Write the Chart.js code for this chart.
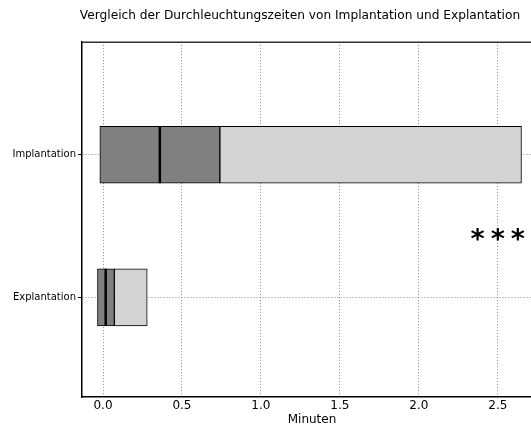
<!DOCTYPE html>
<html>
<head>
<meta charset="utf-8">
<script src="https://cdn.jsdelivr.net/npm/chart.js@4"></script>
<style>
  html, body { margin: 0; padding: 0; background: #fff; overflow: hidden; }
  #wrap { width: 600px; height: 428px; }
</style>
</head>
<body>
<div id="wrap"><canvas id="chart"></canvas></div>
<script>
// Durchleuchtungszeiten: Implantation vs Explantation (horizontal box-like bars)
const categories = ['Explantation', 'Implantation'];
const catPos     = [0, 1];

// dark box part (start, end) and light whisker part (start, end), minutes
const darkStart  = [-0.035, -0.02];
const darkEnd    = [0.072, 0.74];
const lightEnd   = [0.28, 2.65];
const medians    = [0.017, 0.36];

const xTickValues = [0, 0.5, 1.0, 1.5, 2.0, 2.5];
const sigLabel = '***';
const sigPos = { x: 2.5, y: 0.44 };

const FONT = 'DejaVu Sans';

const frame = {
  id: 'frame',
  afterDraw(chart) {
    const { ctx, chartArea: a } = chart;
    ctx.save();
    ctx.strokeStyle = '#333';
    ctx.lineWidth = 1.5;
    ctx.beginPath();
    ctx.moveTo(a.left, a.top);
    ctx.lineTo(a.right, a.top);
    ctx.stroke();
    // significance marker
    const x = chart.scales.x.getPixelForValue(sigPos.x);
    const y = chart.scales.y.getPixelForValue(sigPos.y);
    ctx.fillStyle = '#000';
    ctx.font = 'bold 27px "' + FONT + '"';
    ctx.letterSpacing = '6px';
    ctx.textAlign = 'left';
    ctx.textBaseline = 'middle';
    const w = ctx.measureText(sigLabel).width - 6;
    ctx.fillText(sigLabel, x - w / 2, y + 6);
    ctx.restore();
  }
};

const ctx = document.getElementById('chart').getContext('2d');

new Chart(ctx, {
  type: 'bar',
  data: {
    datasets: [
      {
        indexAxis: 'y',
        data: catPos.map((p, i) => ({ x: [darkStart[i], darkEnd[i]], y: p })),
        backgroundColor: '#808080',
        borderColor: '#000',
        borderWidth: 1,
        borderSkipped: false,
        barThickness: 57,
        grouped: false,
        order: 2
      },
      {
        indexAxis: 'y',
        data: catPos.map((p, i) => ({ x: [darkEnd[i], lightEnd[i]], y: p })),
        backgroundColor: '#d3d3d3',
        borderColor: '#000',
        borderWidth: 1,
        borderSkipped: false,
        barThickness: 57,
        grouped: false,
        order: 2
      },
      {
        type: 'scatter',
        data: catPos.map((p, i) => ({ x: medians[i], y: p })),
        pointStyle: 'line',
        rotation: 90,
        radius: 28.5,
        borderWidth: 2.5,
        borderColor: '#000',
        order: 1
      }
    ]
  },
  options: {
    responsive: true,
    maintainAspectRatio: false,
    animation: false,
    events: [],
    layout: { padding: 0 },
    plugins: {
      legend: { display: false },
      tooltip: { enabled: false },
      title: {
        display: true,
        text: 'Vergleich der Durchleuchtungszeiten von Implantation und Explantation',
        color: '#000',
        font: { family: FONT, size: 12.2, weight: 'normal' },
        padding: { top: 8.5, bottom: 19 }
      }
    },
    scales: {
      x: {
        type: 'linear',
        position: 'bottom',
        min: -0.133,
        max: 2.78,
        offset: false,
        beginAtZero: false,
        z: 1,
        afterBuildTicks(s) { s.ticks = xTickValues.map(v => ({ value: v })); },
        afterFit(s) { s.height = 30; },
        ticks: {
          color: '#000',
          padding: 2,
          font: { family: FONT, size: 12 },
          callback: v => v.toFixed(1)
        },
        grid: { color: '#8a8a8a', lineWidth: 1, drawTicks: false, offset: false },
        border: { color: '#000', width: 1.5, dash: [1, 2] },
        title: {
          display: true,
          text: 'Minuten',
          color: '#000',
          font: { family: FONT, size: 12 },
          padding: { top: 0, bottom: 0 }
        }
      },
      y: {
        type: 'linear',
        position: 'left',
        min: -0.699,
        max: 1.79,
        offset: false,
        beginAtZero: false,
        z: 1,
        afterBuildTicks(s) { s.ticks = catPos.map(v => ({ value: v })); },
        afterFit(s) { s.width = 82; },
        ticks: {
          color: '#000',
          padding: 2,
          font: { family: FONT, size: 10 },
          callback: v => categories[catPos.indexOf(v)] || ''
        },
        grid: { color: '#8a8a8a', lineWidth: 1, drawTicks: true, tickLength: 4, tickColor: '#000', tickBorderDash: [], offset: false },
        border: { color: '#000', width: 1.5, dash: [1, 2] }
      },
      // empty right-hand axis: keeps the plot's right edge where the original crop cut it
      yRight: {
        type: 'linear',
        position: 'right',
        min: 0,
        max: 1,
        afterFit(s) { s.width = 58; },
        ticks: { display: false },
        grid: { display: false, drawOnChartArea: false },
        border: { display: false }
      }
    }
  },
  plugins: [frame]
});
</script>
</body>
</html>
